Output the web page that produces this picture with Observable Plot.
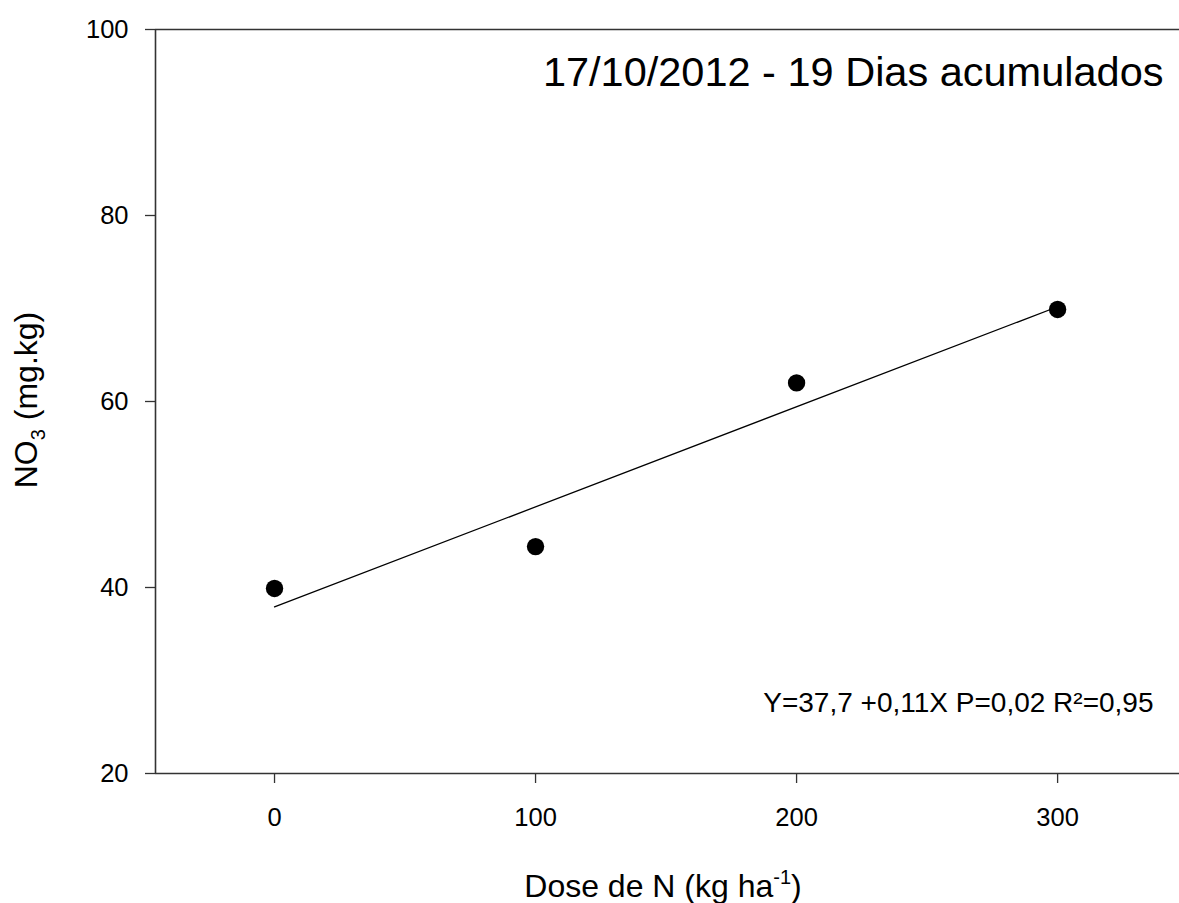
<!DOCTYPE html>
<html><head><meta charset="utf-8">
<script src="https://cdn.jsdelivr.net/npm/d3@7"></script>
<script src="https://cdn.jsdelivr.net/npm/@observablehq/plot@0.6"></script>
<style>body{margin:0;background:#fff;} #chart svg{display:block;}</style>
</head><body><div id="chart"></div>
<script>
const doses = [0, 100, 200, 300];
const no3 = [39.9, 44.4, 62.0, 69.9];
const xTicks = [0, 100, 200, 300];
const yTicks = [20, 40, 60, 80, 100];
const titleText = "17/10/2012 - 19 Dias acumulados";
const equationText = "Y=37,7 +0,11X P=0,02 R²=0,95";
const xLabelMain = "Dose de N (kg ha";
const xLabelSup = "-1";
const yLabelMain = "NO";
const yLabelSub = "3";
const yLabelRest = " (mg.kg)";

const data = doses.map((d, i) => ({dose: d, no3: no3[i]}));
const xDomain = [-45.6, 346.7];
const yDomain = [20, 100];
const font = "'Liberation Sans', Arial, sans-serif";
const lineColor = "#333";

const plot = Plot.plot({
  width: 1179, height: 903,
  marginLeft: 155, marginRight: 0, marginTop: 29, marginBottom: 130,
  style: {fontFamily: font, fontSize: "25px", background: "#fff", color: "#000", overflow: "visible"},
  x: {domain: xDomain, label: null},
  y: {domain: yDomain, label: null},
  marks: [
    Plot.axisX({ticks: xTicks, tickSize: 10, tickPadding: 24, label: null, fontSize: 25.5, stroke: lineColor, strokeWidth: 1.3}),
    Plot.axisY({ticks: yTicks, tickSize: 10, tickPadding: 17, label: null, fontSize: 25.5, stroke: lineColor, strokeWidth: 1.3}),
    Plot.ruleX([xDomain[0]], {stroke: lineColor, strokeWidth: 1.6}),
    Plot.ruleY([yDomain[0]], {stroke: lineColor, strokeWidth: 1.6}),
    Plot.ruleY([yDomain[1]], {stroke: lineColor, strokeWidth: 1.6}),
    Plot.linearRegressionY(data, {x: "dose", y: "no3", ci: 0, stroke: "#000", strokeWidth: 1.3}),
    Plot.dot(data, {x: "dose", y: "no3", r: 8.7, fill: "#000", stroke: null}),
    Plot.text([titleText], {frameAnchor: "top-right", lineAnchor: "top", textAnchor: "end", dx: -16, dy: 27, fontSize: 41.5, fill: "#000"}),
    Plot.text([equationText], {frameAnchor: "top-right", lineAnchor: "top", textAnchor: "end", dx: -26, dy: 663, fontSize: 28, fill: "#000"})
  ]
});
document.getElementById("chart").appendChild(plot);

const svg = d3.select(plot);
// X axis label with superscript
const xl = svg.append("text")
  .attr("x", 663).attr("y", 897)
  .attr("text-anchor", "middle")
  .attr("font-family", font).attr("font-size", 32).attr("fill", "#000");
xl.append("tspan").text(xLabelMain);
xl.append("tspan").attr("font-size", 20).attr("dy", -13).text(xLabelSup);
xl.append("tspan").attr("dy", 13).text(")");

// Y axis label with subscript
const yl = svg.append("text")
  .attr("transform", "translate(37,400) rotate(-90)")
  .attr("text-anchor", "middle")
  .attr("font-family", font).attr("font-size", 32).attr("fill", "#000");
yl.append("tspan").text(yLabelMain);
yl.append("tspan").attr("font-size", 20).attr("dy", 8).text(yLabelSub);
yl.append("tspan").attr("dy", -8).text(yLabelRest);
</script>
</body></html>
